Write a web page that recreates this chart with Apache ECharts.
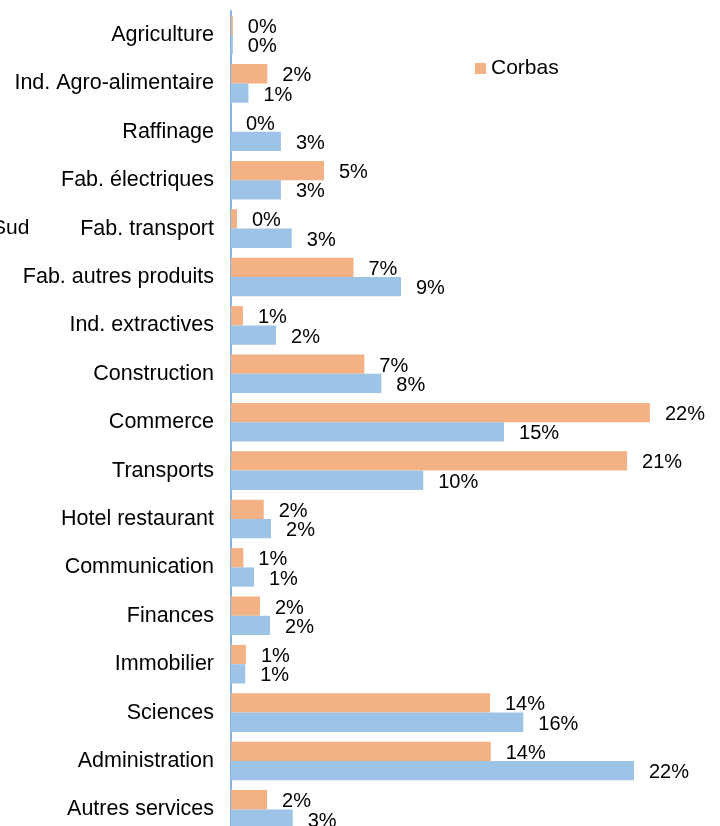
<!DOCTYPE html>
<html>
<head>
<meta charset="utf-8">
<script src="https://cdn.jsdelivr.net/npm/echarts@6/dist/echarts.min.js"></script>
<style>
html, body { margin: 0; padding: 0; background: #fff; }
#chart { width: 720px; height: 826px; }
</style>
</head>
<body>
<div id="chart"></div>
<script>
// secteurs, du haut vers le bas
var categories = ['Agriculture', 'Ind. Agro-alimentaire', 'Raffinage', 'Fab. électriques', 'Fab. transport',
    'Fab. autres produits', 'Ind. extractives', 'Construction', 'Commerce', 'Transports', 'Hotel restaurant',
    'Communication', 'Finances', 'Immobilier', 'Sciences', 'Administration', 'Autres services'];

// parts en %
var corbas = [0.1, 1.94, 0, 4.97, 0.32, 6.55, 0.64, 7.13, 22.4, 21.18, 1.75, 0.66, 1.55, 0.8, 13.85, 13.89, 1.93];
var sud = [0.1, 0.93, 2.67, 2.67, 3.25, 9.09, 2.41, 8.04, 14.6, 10.28, 2.14, 1.23, 2.09, 0.76, 15.63, 21.55, 3.3];

var seriesNames = ['Corbas', 'Sud'];
var font = '"Liberation Sans", Arial, sans-serif';

var labelOpt = {
    show: true,
    position: 'right',
    distance: 15,
    offset: [0, 2],
    color: '#000',
    fontSize: 20,
    fontFamily: font,
    formatter: function (p) {
        return Math.round(p.value) + '%';
    }
};

var option = {
    animation: false,
    color: ['#f4b183', '#9dc3e6'],
    legend: [{
        data: [seriesNames[0]],
        left: 475,
        top: 58,
        padding: 0,
        itemWidth: 11,
        itemHeight: 11,
        icon: 'rect',
        textStyle: { color: '#000', fontSize: 21, fontFamily: font }
    }, {
        // légende coupée au bord gauche
        data: [seriesNames[1]],
        left: -24,
        top: 218,
        padding: 0,
        itemWidth: 11,
        itemHeight: 11,
        icon: 'rect',
        textStyle: { color: '#000', fontSize: 21, fontFamily: font }
    }],
    grid: {
        left: 231,
        top: 10.8,
        width: 467.5,
        height: 822.8,
        outerBoundsMode: 'none'
    },
    xAxis: {
        type: 'value',
        min: 0,
        max: 25,
        show: false
    },
    yAxis: {
        type: 'category',
        inverse: true,
        data: categories,
        axisTick: { show: false },
        axisLine: { show: true, lineStyle: { color: '#5b9bd5', width: 1.5 } },
        axisLabel: { color: '#000', fontSize: 21.5, fontFamily: font, margin: 17, padding: [4, 0, 0, 0] }
    },
    series: [{
        name: seriesNames[0],
        type: 'bar',
        data: corbas,
        barWidth: 19.3,
        barGap: '0%',
        label: labelOpt
    }, {
        name: seriesNames[1],
        type: 'bar',
        data: sud,
        barWidth: 19.3,
        barGap: '0%',
        label: labelOpt
    }]
};

var chart = echarts.init(document.getElementById('chart'));
chart.setOption(option);
</script>
</body>
</html>
